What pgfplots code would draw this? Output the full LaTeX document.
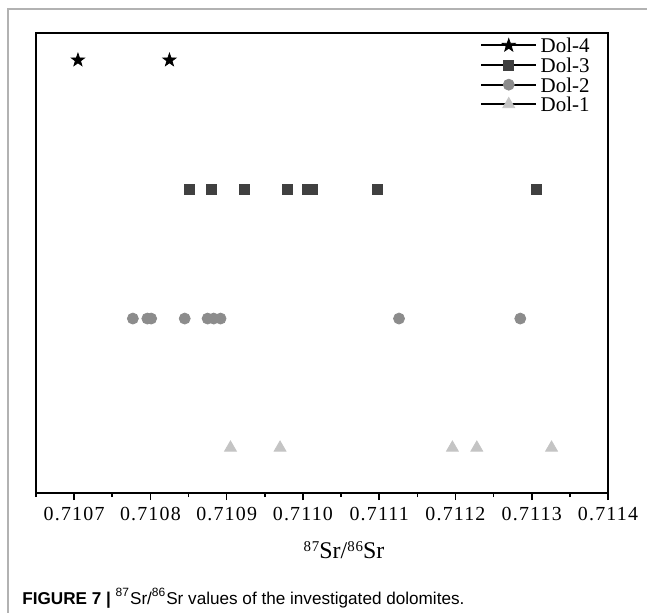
\documentclass[border=0pt]{standalone}
\usepackage{pgfplots}
\pgfplotsset{compat=1.18}
\usepackage{fontspec}
\setmainfont{Liberation Serif}
\newfontfamily\tickfont[LetterSpace=6]{Liberation Serif}
\newfontfamily\capfont{Liberation Sans}
\definecolor{cA}{HTML}{000000}
\definecolor{cB}{HTML}{404040}
\definecolor{cC}{HTML}{8C8C8C}
\definecolor{cD}{HTML}{C4C4C4}
\pgfdeclareplotmark{fstar}{%
  \pgfpathmoveto{\pgfpointpolar{90}{\pgfplotmarksize}}%
  \pgfpathlineto{\pgfpointpolar{126}{0.4\pgfplotmarksize}}%
  \pgfpathlineto{\pgfpointpolar{162}{\pgfplotmarksize}}%
  \pgfpathlineto{\pgfpointpolar{198}{0.4\pgfplotmarksize}}%
  \pgfpathlineto{\pgfpointpolar{234}{\pgfplotmarksize}}%
  \pgfpathlineto{\pgfpointpolar{270}{0.4\pgfplotmarksize}}%
  \pgfpathlineto{\pgfpointpolar{306}{\pgfplotmarksize}}%
  \pgfpathlineto{\pgfpointpolar{342}{0.4\pgfplotmarksize}}%
  \pgfpathlineto{\pgfpointpolar{18}{\pgfplotmarksize}}%
  \pgfpathlineto{\pgfpointpolar{54}{0.4\pgfplotmarksize}}%
  \pgfpathclose\pgfusepathqfillstroke}
\pgfplotsset{myleg/.style={legend image code/.code={%
  \draw[black,line width=1bp] (0bp,0bp)--(27.5bp,0bp);
  \draw[##1] plot coordinates {(13.75bp,0bp)};}}}
\begin{document}
\begin{tikzpicture}
\useasboundingbox (0,0) rectangle (323.5bp,306.5bp);
\draw[gray!60,line width=1bp] (3.8bp,0) -- (3.8bp,302bp) -- (323.5bp,302bp);
\begin{axis}[at={(18bp,60bp)}, anchor=south west, scale only axis,
  width=286bp, height=230bp,
  xmin=0.71065, xmax=0.7114, ymin=0.65, ymax=4.21,
  xtick={0.7107,0.7108,0.7109,0.7110,0.7111,0.7112,0.7113,0.7114},
  xticklabels={0.7107,0.7108,0.7109,0.7110,0.7111,0.7112,0.7113,0.7114},
  minor xtick={0.71065,0.71075,0.71085,0.71095,0.71105,0.71115,0.71125,0.71135},
  ytick=\empty,
  xtick pos=bottom,
  tick align=outside,
  major tick length=3.5bp, minor tick length=2bp,
  axis line style={line width=1bp},
  every tick/.style={black, line width=0.8bp},
  xticklabel style={font=\tickfont\fontsize{10}{11}\selectfont},
  legend style={at={(0.776,0.99)}, anchor=north west, draw=none, fill=none,
    inner sep=0pt, row sep=2.3bp, font=\fontsize{10.5}{11}\selectfont,
    nodes={inner sep=0pt, text height=7.5bp, text depth=0pt},
    legend cell align=left},
  clip=false,
]
\addplot[only marks, color=cA, mark=fstar, mark size=3.4bp, mark options={fill=cA}, myleg] coordinates {
(0.710705,4) (0.710825,4)};
\addlegendentry{\,Dol-4}
\addplot[only marks, color=cB, mark=square*, mark size=2.5bp, mark options={fill=cB}, myleg] coordinates {
(0.710851,3) (0.710880,3) (0.710923,3) (0.710980,3) (0.711006,3) (0.711012,3) (0.711098,3) (0.711306,3)};
\addlegendentry{\,Dol-3}
\addplot[only marks, color=cC, mark=*, mark size=2.75bp, mark options={fill=cC}, myleg] coordinates {
(0.710777,2) (0.710796,2) (0.710801,2) (0.710845,2) (0.710875,2) (0.710883,2) (0.710892,2) (0.711126,2) (0.711285,2)};
\addlegendentry{\,Dol-2}
\addplot[only marks, color=cD, mark=triangle*, mark size=3.4bp, mark options={fill=cD}, myleg] coordinates {
(0.710905,1) (0.710970,1) (0.711196,1) (0.711228,1) (0.711326,1)};
\addlegendentry{\,Dol-1}
\end{axis}
\node[font=\fontsize{12}{13}\selectfont] at (172bp,31.5bp) {{\tickfont\fontsize{7.5}{8}\selectfont\raisebox{1.1ex}{87}}Sr/{\tickfont\fontsize{7.5}{8}\selectfont\raisebox{1.1ex}{86}}Sr};
\node[anchor=west, inner sep=0pt, font=\capfont\fontsize{8.6}{10}\selectfont] at (11bp,7.5bp)
  {\textbf{FIGURE 7 |} \textsuperscript{87}Sr/\textsuperscript{86}Sr values of the investigated dolomites.};
\end{tikzpicture}
\end{document}
